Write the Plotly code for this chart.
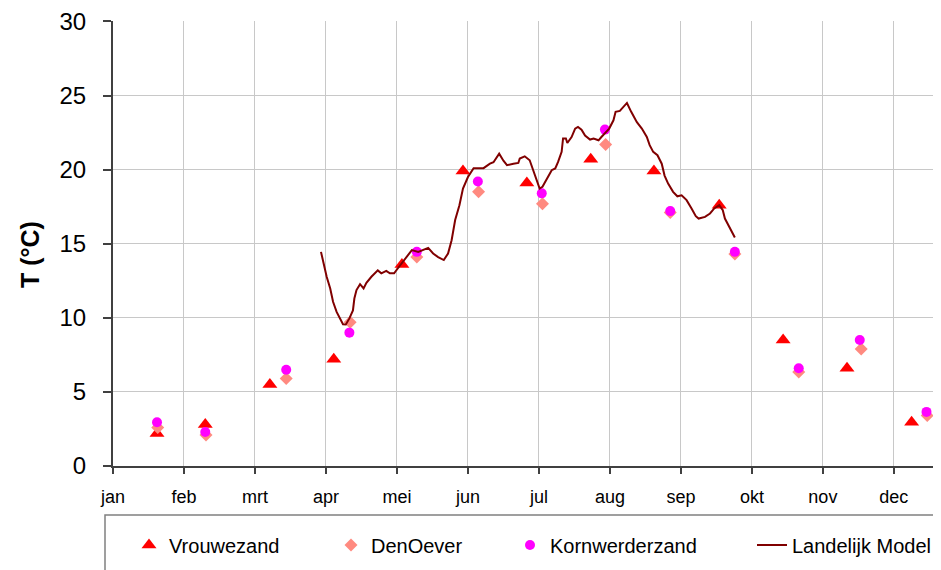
import plotly.graph_objects as go

# Month tick labels (x axis in month units, 0 = start of january)
months = ["jan", "feb", "mrt", "apr", "mei", "jun", "jul", "aug", "sep", "okt", "nov", "dec"]
month_pos = list(range(12))

# Station measurements (x in months, y in degC)
vrouwezand_x = [0.62, 1.30, 2.21, 3.11, 4.07, 4.93, 5.83, 6.73, 7.62, 8.54, 9.44, 10.34, 11.25]
vrouwezand_y = [2.2, 2.8, 5.5, 7.2, 13.6, 19.9, 19.1, 20.7, 19.9, 17.6, 8.5, 6.6, 2.95]

denoever_x = [0.63, 1.31, 2.44, 3.34, 4.28, 5.15, 6.05, 6.94, 7.85, 8.76, 9.66, 10.54, 11.47]
denoever_y = [2.6, 2.1, 5.9, 9.7, 14.1, 18.5, 17.7, 21.7, 17.1, 14.3, 6.35, 7.9, 3.4]

kornwerderzand_x = [0.62, 1.30, 2.44, 3.33, 4.28, 5.14, 6.04, 6.93, 7.85, 8.76, 9.66, 10.52, 11.46]
kornwerderzand_y = [2.95, 2.3, 6.5, 9.0, 14.45, 19.2, 18.4, 22.7, 17.2, 14.45, 6.6, 8.5, 3.65]

# Landelijk Model
model_x = [2.93, 2.96, 3.01, 3.06, 3.10, 3.15, 3.20, 3.24, 3.28, 3.33, 3.38, 3.40, 3.43, 3.48,
           3.53, 3.57, 3.64, 3.73, 3.78, 3.85, 3.90, 3.96, 4.00, 4.07, 4.14, 4.21, 4.30, 4.37,
           4.44, 4.51, 4.58, 4.66, 4.72, 4.77, 4.82, 4.88, 4.93, 5.00, 5.08, 5.22, 5.31, 5.36,
           5.44, 5.50, 5.55, 5.64, 5.71, 5.73, 5.80, 5.87, 5.92, 5.96, 6.01, 6.05, 6.11, 6.18,
           6.23, 6.27, 6.32, 6.34, 6.38, 6.40, 6.46, 6.51, 6.55, 6.60, 6.65, 6.72, 6.77, 6.84,
           6.88, 6.93, 6.99, 7.05, 7.08, 7.14, 7.19, 7.24, 7.30, 7.38, 7.45, 7.52, 7.56, 7.61,
           7.67, 7.73, 7.77, 7.82, 7.89, 7.95, 8.01, 8.08, 8.15, 8.21, 8.25, 8.34, 8.41, 8.47,
           8.54, 8.59, 8.62, 8.67, 8.71, 8.76]
model_y = [14.45, 13.8, 12.77, 11.98, 11.08, 10.4, 9.89, 9.57, 9.55, 9.96, 10.5, 11.3, 11.87, 12.27,
           11.98, 12.36, 12.77, 13.2, 13.0, 13.17, 13.0, 13.0, 13.26, 13.67, 14.1, 14.57, 14.45, 14.6,
           14.72, 14.34, 14.1, 13.9, 14.34, 15.24, 16.6, 17.6, 18.72, 19.5, 20.1, 20.1, 20.4, 20.5,
           21.08, 20.6, 20.3, 20.4, 20.45, 20.75, 20.9, 20.63, 19.96, 19.3, 18.72, 18.84, 19.4, 19.96,
           20.08, 20.52, 21.2, 22.1, 22.1, 21.8, 22.2, 22.77, 22.88, 22.7, 22.3, 22.03, 22.1, 21.98,
           22.2, 22.48, 22.77, 23.33, 23.9, 23.96, 24.23, 24.5, 23.9, 23.2, 22.77, 22.2, 21.65, 21.2,
           20.97, 20.4, 19.6, 19.06, 18.5, 18.2, 18.27, 17.94, 17.38, 16.86, 16.7, 16.81, 17.04, 17.38,
           17.6, 17.26, 16.7, 16.25, 15.9, 15.42]

FONT = "Liberation Sans, Arial, sans-serif"

fig = go.Figure()
fig.add_trace(go.Scatter(x=vrouwezand_x, y=vrouwezand_y, mode="markers", name="Vrouwezand",
                         marker=dict(symbol="triangle-up", size=13, color="#ff0000"),
                         legend="legend"))
fig.add_trace(go.Scatter(x=denoever_x, y=denoever_y, mode="markers", name="DenOever",
                         marker=dict(symbol="diamond", size=10, color="#ff8a80"),
                         legend="legend2"))
fig.add_trace(go.Scatter(x=kornwerderzand_x, y=kornwerderzand_y, mode="markers", name="Kornwerderzand",
                         marker=dict(symbol="circle", size=10, color="#ff00ff"),
                         legend="legend3"))
fig.add_trace(go.Scatter(x=model_x, y=model_y, mode="lines", name="Landelijk Model",
                         line=dict(color="#800000", width=2),
                         legend="legend4"))

# page body has an 8px margin: figure sits at (8, 8) in the window
OFF = 8
W, H = 941 - OFF, 570 - OFF
ml, mt = 113 - OFF, 21 - OFF
pw = 940 - 113
ph = 466 - 21
mr = W - ml - pw
mb = H - mt - ph

def px2paper_x(px):
    return (px - 113) / pw

def py2paper_y(py):
    return (466 - py) / ph

leg_font = dict(family=FONT, size=20, color="#000000")
leg_y = py2paper_y(545)
common = dict(orientation="h", yanchor="middle", xanchor="left", y=leg_y,
              font=leg_font, bgcolor="rgba(0,0,0,0)", borderwidth=0)

fig.update_layout(
    width=W, height=H,
    margin=dict(l=ml, r=mr, t=mt, b=mb, autoexpand=False),
    paper_bgcolor="#ffffff", plot_bgcolor="#ffffff",
    font=dict(family=FONT, color="#000000"),
    showlegend=True,
    legend=dict(x=px2paper_x(129), **common),
    legend2=dict(x=px2paper_x(331), **common),
    legend3=dict(x=px2paper_x(510), **common),
    legend4=dict(x=px2paper_x(752), **common),
    xaxis=dict(range=[0, 11.65], tickvals=month_pos, ticktext=months,
               showgrid=True, gridcolor="#c8c8c8", gridwidth=1,
               showline=True, linecolor="#404040", linewidth=2,
               ticks="outside", ticklen=6, tickcolor="#404040", tickwidth=1.5,
               tickfont=dict(family=FONT, size=18, color="#000000"),
               ticklabelstandoff=7, ticklabeloverflow="allow",
               zeroline=False, fixedrange=True),
    yaxis=dict(range=[0, 30.03], tickvals=[0, 5, 10, 15, 20, 25, 30],
               showgrid=True, gridcolor="#c8c8c8", gridwidth=1,
               showline=True, linecolor="#404040", linewidth=2,
               ticks="outside", ticklen=8, tickcolor="#404040", tickwidth=1.5,
               tickfont=dict(family=FONT, size=24, color="#000000"),
               ticklabelstandoff=12, ticklabeloverflow="allow",
               zeroline=False, fixedrange=True),
    shapes=[dict(type="rect", xref="paper", yref="paper",
                 x0=px2paper_x(105), x1=px2paper_x(960),
                 y0=py2paper_y(515), y1=py2paper_y(600),
                 line=dict(color="#808080", width=1.5), fillcolor="rgba(0,0,0,0)")],
    annotations=[dict(text="<b>T (°C)</b>", textangle=-90, xref="paper", yref="paper",
                      x=px2paper_x(30), y=py2paper_y(255), xanchor="center", yanchor="middle",
                      showarrow=False, font=dict(family=FONT, size=25, color="#000000"))],
)

fig.write_html("out.html")
